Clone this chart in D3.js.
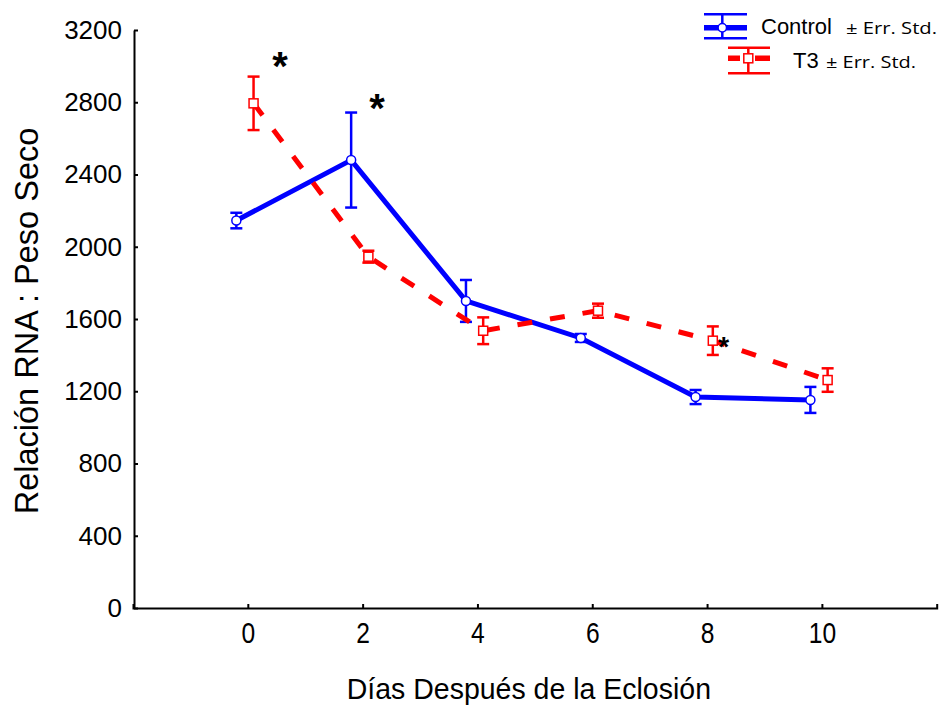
<!DOCTYPE html>
<html>
<head>
<meta charset="utf-8">
<script src="https://cdn.jsdelivr.net/npm/d3@7"></script>
<style>
  body { margin: 0; background: #ffffff; }
  svg { display: block; }
</style>
</head>
<body>
<svg id="chart" width="943" height="706"></svg>
<script>
// Days after hatching and the RNA : dry weight ratio (mean ± standard error)
const days = [0, 2, 4, 6, 8, 10];
const controlMean = [2145, 2480, 1700, 1495, 1168, 1152];
const controlErr  = [43, 263, 116, 22, 39, 72];
const t3Mean = [2794, 1945, 1535, 1646, 1480, 1262];
const t3Err  = [148, 33, 74, 39, 79, 65];

const xTickValues = [0, 2, 4, 6, 8, 10];
const yTickValues = [0, 400, 800, 1200, 1600, 2000, 2400, 2800, 3200];

// Horizontal day offset for each series so overlapping error bars stay readable
const controlShift = -0.2;
const t3Shift = 0.1;

// Significance marks: day, value, size class
const starDays   = [0.56, 2.25, 8.29];
const starValues = [3045, 2812, 1478];
const starBig    = [true, true, false];

const svg = d3.select("#chart");
const blue = "#0000ff";
const red = "#ff0000";
const sans = "Liberation Sans, Arial, sans-serif";

const x = d3.scaleLinear().domain([-2, 12]).range([133, 936.7]);
const y = d3.scaleLinear().domain([0, 3200]).range([608, 30]);

// ---- axes ----
const xAxis = d3.axisBottom(x)
  .tickValues(xTickValues)
  .tickSizeInner(-4)
  .tickSizeOuter(-4)
  .tickPadding(14)
  .tickFormat(d3.format("d"));

const gx = svg.append("g").attr("transform", "translate(0,608)").call(xAxis);
gx.selectAll("text")
  .attr("font-family", sans)
  .attr("font-size", 30)
  .attr("fill", "#000")
  .attr("transform", "scale(0.82,1)");

const yAxis = d3.axisLeft(y)
  .tickValues(yTickValues)
  .tickSizeInner(-4)
  .tickSizeOuter(0)
  .tickPadding(12)
  .tickFormat(d3.format("d"));

const gy = svg.append("g").attr("transform", "translate(134,0)").call(yAxis);
gy.selectAll("text")
  .attr("font-family", sans)
  .attr("font-size", 26)
  .attr("fill", "#000");

[gx, gy].forEach(g => {
  g.selectAll("path, line").attr("stroke", "#000").attr("stroke-width", 2);
});

// Axis titles
const titleX = x(5) - 6;
svg.append("text")
  .attr("transform", `translate(${titleX},699) scale(0.95,1)`)
  .attr("text-anchor", "middle")
  .attr("font-family", sans)
  .attr("font-size", 30)
  .attr("fill", "#000")
  .text("Días Después de la Eclosión");

svg.append("text")
  .attr("transform", "translate(38,321) rotate(-90)")
  .attr("text-anchor", "middle")
  .attr("font-family", sans)
  .attr("font-size", 32.5)
  .attr("fill", "#000")
  .text("Relación RNA : Peso Seco");

// ---- series ----
function drawSeries(means, errs, shift, color, dashed, marker) {
  const pts = days.map((d, i) => ({ d: d + shift, m: means[i], e: errs[i] }));
  const g = svg.append("g");

  const line = d3.line().x(p => x(p.d)).y(p => y(p.m));
  g.append("path")
    .datum(pts)
    .attr("d", line)
    .attr("fill", "none")
    .attr("stroke", color)
    .attr("stroke-width", 5)
    .attr("stroke-dasharray", dashed ? "15,18" : null);

  const cap = 6;
  const eb = g.selectAll("g.eb").data(pts).join("g").attr("class", "eb");
  eb.append("line")
    .attr("x1", p => x(p.d)).attr("x2", p => x(p.d))
    .attr("y1", p => y(p.m + p.e)).attr("y2", p => y(p.m - p.e));
  eb.append("line")
    .attr("x1", p => x(p.d) - cap).attr("x2", p => x(p.d) + cap)
    .attr("y1", p => y(p.m + p.e)).attr("y2", p => y(p.m + p.e));
  eb.append("line")
    .attr("x1", p => x(p.d) - cap).attr("x2", p => x(p.d) + cap)
    .attr("y1", p => y(p.m - p.e)).attr("y2", p => y(p.m - p.e));
  eb.selectAll("line").attr("stroke", color).attr("stroke-width", 2.5);

  if (marker === "circle") {
    g.selectAll("circle").data(pts).join("circle")
      .attr("cx", p => x(p.d)).attr("cy", p => y(p.m)).attr("r", 4.5)
      .attr("fill", "#fff").attr("stroke", color).attr("stroke-width", 1.5);
  } else {
    g.selectAll("rect").data(pts).join("rect")
      .attr("x", p => x(p.d) - 4.5).attr("y", p => y(p.m) - 4.5)
      .attr("width", 9).attr("height", 9)
      .attr("fill", "#fff").attr("stroke", color).attr("stroke-width", 1.5);
  }
}

drawSeries(controlMean, controlErr, controlShift, blue, false, "circle");
drawSeries(t3Mean, t3Err, t3Shift, red, true, "square");

// ---- significance marks ----
svg.append("g").selectAll("text")
  .data(starDays.map((d, i) => ({ d, v: starValues[i], big: starBig[i] })))
  .join("text")
  .attr("x", s => x(s.d))
  .attr("y", s => y(s.v))
  .attr("dy", "0.55em")
  .attr("text-anchor", "middle")
  .attr("font-family", sans)
  .attr("font-weight", "bold")
  .attr("font-size", s => s.big ? 40 : 28)
  .attr("fill", "#000")
  .text("*");

// ---- legend ----
const lg = svg.append("g");
// Control entry
lg.append("line").attr("x1", 704).attr("x2", 747).attr("y1", 14.3).attr("y2", 14.3)
  .attr("stroke", blue).attr("stroke-width", 2.5);
lg.append("line").attr("x1", 704).attr("x2", 747).attr("y1", 38.3).attr("y2", 38.3)
  .attr("stroke", blue).attr("stroke-width", 2.5);
lg.append("line").attr("x1", 722.3).attr("x2", 722.3).attr("y1", 14.3).attr("y2", 38.3)
  .attr("stroke", blue).attr("stroke-width", 2.5);
lg.append("line").attr("x1", 704).attr("x2", 747).attr("y1", 27.7).attr("y2", 27.7)
  .attr("stroke", blue).attr("stroke-width", 5.5);
lg.append("circle").attr("cx", 722.3).attr("cy", 27.7).attr("r", 4.2)
  .attr("fill", "#fff").attr("stroke", blue).attr("stroke-width", 1.5);
lg.append("text").attr("x", 761).attr("y", 34.3)
  .attr("font-family", sans).attr("font-size", 22)
  .attr("fill", "#000").text("Control");
lg.append("text").attr("x", 846).attr("y", 34.3)
  .attr("font-family", "Open Sans, Liberation Sans, sans-serif").attr("font-size", 17)
  .attr("textLength", 91).attr("lengthAdjust", "spacingAndGlyphs")
  .attr("fill", "#000").text("± Err. Std.");

// T3 entry
lg.append("line").attr("x1", 728).attr("x2", 770).attr("y1", 47.7).attr("y2", 47.7)
  .attr("stroke", red).attr("stroke-width", 2.5);
lg.append("line").attr("x1", 728).attr("x2", 770).attr("y1", 73.3).attr("y2", 73.3)
  .attr("stroke", red).attr("stroke-width", 2.5);
lg.append("line").attr("x1", 748.3).attr("x2", 748.3).attr("y1", 47.7).attr("y2", 73.3)
  .attr("stroke", red).attr("stroke-width", 2.5);
lg.append("line").attr("x1", 728).attr("x2", 770).attr("y1", 58.3).attr("y2", 58.3)
  .attr("stroke", red).attr("stroke-width", 5.5).attr("stroke-dasharray", "12,15,15");
lg.append("rect").attr("x", 748.3 - 4.5).attr("y", 58.3 - 4.5).attr("width", 9).attr("height", 9)
  .attr("fill", "#fff").attr("stroke", red).attr("stroke-width", 1.5);
lg.append("text").attr("x", 793).attr("y", 68.3)
  .attr("font-family", sans).attr("font-size", 22)
  .attr("fill", "#000").text("T3");
lg.append("text").attr("x", 826).attr("y", 68.3)
  .attr("font-family", "Open Sans, Liberation Sans, sans-serif").attr("font-size", 17)
  .attr("textLength", 90).attr("lengthAdjust", "spacingAndGlyphs")
  .attr("fill", "#000").text("± Err. Std.");
</script>
</body>
</html>
